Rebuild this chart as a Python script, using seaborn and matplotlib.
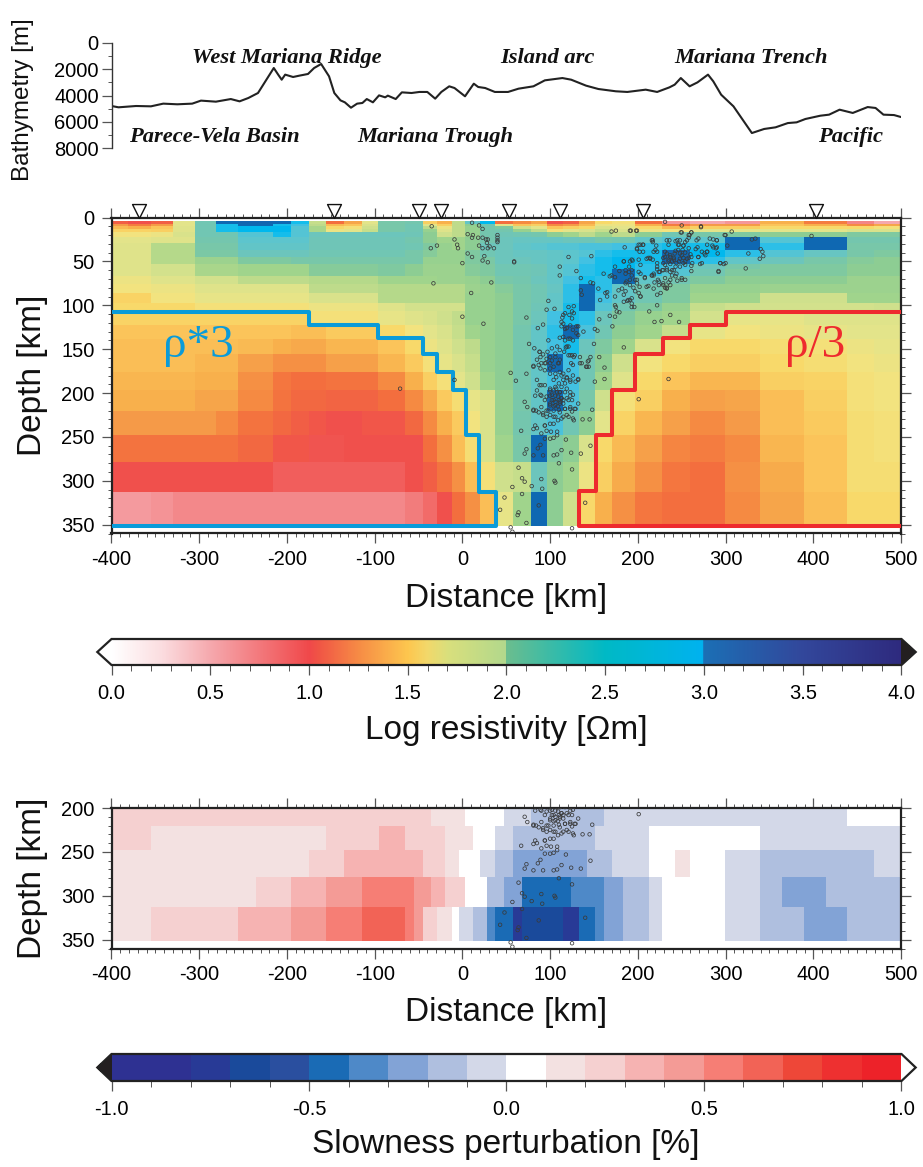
import matplotlib
matplotlib.use("Agg")
import matplotlib.pyplot as plt
import numpy as np
import pandas as pd
import seaborn as sns
from matplotlib.cm import ScalarMappable
from matplotlib.colors import LinearSegmentedColormap, ListedColormap, Normalize
from matplotlib.ticker import MultipleLocator

# bathymetry profile
bathy_dist = [-400, -392, -372, -355, -341, -325, -308, -298, -281, -264, -254, -244, -233, -227, -215, -210, -206, -202,
              -193, -186, -176, -169, -161, -152, -146, -139, -134, -127, -120, -114, -109, -102, -95, -88, -85, -76,
              -69, -58, -49, -40, -31, -24, -15, -9, 3, 13, 18, 26, 37, 52, 64, 81, 94, 114, 124, 141, 155, 175, 188,
              209, 222, 236, 242, 249, 259, 268, 280, 286, 295, 309, 330, 344, 357, 371, 381, 391, 408, 418, 430, 445,
              462, 471, 480, 492, 500]
bathy_depth = [4800, 4900, 4800, 4825, 4620, 4670, 4620, 4390, 4470, 4270, 4445, 4190, 3810, 3175, 1905, 2410, 2795, 2410,
               2590, 2490, 2360, 1905, 1600, 2540, 3810, 4370, 4520, 4930, 4620, 4570, 4270, 4520, 3990, 4140, 4010, 4270,
               3760, 3810, 3730, 3730, 4240, 3730, 3300, 3430, 4060, 3100, 3350, 3430, 3730, 3730, 3480, 3300, 2845, 2670,
               2795, 3250, 3505, 3680, 3730, 3555, 3730, 3380, 3175, 2670, 3300, 3000, 2410, 2920, 3940, 4825, 6860, 6550,
               6425, 6100, 6045, 5790, 5540, 5460, 5080, 5330, 4880, 4950, 5460, 5490, 5640]
region_names = ["West Mariana Ridge", "Island arc", "Mariana Trench", "Parece-Vela Basin", "Mariana Trough", "Pacific"]
region_dist = [-200, 97, 329, -283, -31, 443]
region_depth = [1140, 1140, 1140, 7160, 7160, 7160]

# stations
site_dist = [-369, -146, -50, -24, 53, 111, 206, 403]

# resistivity model
x_edges = [-400, -381, -355, -330, -305, -281, -256, -216, -195, -175, -155, -135, -115, -96, -65, -45, -29, -12, 3, 20,
           37, 58, 78, 97, 115, 133, 151, 171, 197, 227, 259, 299, 339, 389, 439, 469, 500]
z_edges = [4, 7, 10, 13, 16, 22, 29, 37, 45, 53, 59, 67, 76, 86, 97, 107, 122, 138, 155, 176, 197, 220, 248, 279, 313, 351]
log_rho = [
    [1.05, 1.00, 1.05, 1.70, 2.40, 3.05, 3.10, 3.05, 2.90, 1.85, 1.10, 1.30, 1.70, 2.30, 2.35, 1.50, 1.35, 1.90, 2.60, 2.95, 1.10, 1.20, 1.30, 1.00, 1.05, 1.30, 1.55, 1.60, 1.10, 0.60, 0.50, 0.60, 1.35, 1.15, 0.70, 0.50],
    [1.25, 1.15, 1.25, 1.70, 2.40, 2.90, 3.05, 2.90, 2.80, 1.90, 1.40, 1.45, 1.75, 2.30, 2.40, 1.70, 1.50, 1.90, 2.10, 2.40, 1.70, 1.45, 1.50, 1.20, 1.25, 1.40, 1.65, 1.65, 1.35, 1.15, 1.25, 1.25, 1.45, 1.35, 1.20, 1.30],
    [1.40, 1.35, 1.45, 1.72, 2.40, 2.90, 2.95, 2.95, 2.70, 1.98, 1.55, 1.60, 1.80, 2.30, 2.40, 1.90, 1.65, 1.90, 2.05, 2.35, 2.20, 1.80, 1.70, 1.45, 1.50, 1.55, 1.75, 1.70, 1.55, 1.40, 1.50, 1.50, 1.55, 1.55, 1.55, 1.60],
    [1.52, 1.52, 1.50, 1.72, 2.40, 2.90, 2.95, 2.95, 2.70, 1.98, 1.65, 1.70, 1.85, 2.30, 2.40, 2.05, 1.72, 1.90, 2.05, 2.35, 2.35, 2.05, 1.90, 1.60, 1.70, 1.75, 1.85, 1.75, 1.65, 1.62, 1.70, 1.70, 1.70, 1.70, 1.75, 1.75],
    [1.62, 1.62, 1.65, 1.75, 2.40, 2.40, 2.70, 2.90, 2.70, 2.50, 2.50, 2.50, 2.50, 2.50, 2.45, 2.10, 1.80, 1.90, 2.05, 2.35, 2.45, 2.40, 2.35, 2.10, 2.00, 1.90, 2.00, 1.90, 2.10, 2.40, 2.30, 2.20, 2.10, 2.10, 2.20, 2.20],
    [1.70, 1.70, 1.72, 1.72, 2.35, 2.35, 2.65, 2.65, 2.65, 2.45, 2.45, 2.45, 2.45, 2.45, 2.35, 2.10, 2.00, 2.00, 2.10, 2.35, 2.50, 2.55, 2.55, 2.55, 2.50, 2.45, 2.30, 2.35, 2.60, 2.70, 2.65, 3.05, 2.70, 3.05, 2.35, 2.35],
    [1.72, 1.72, 1.95, 1.95, 2.30, 2.30, 2.60, 2.60, 2.60, 2.45, 2.45, 2.45, 2.45, 2.45, 2.40, 2.20, 2.05, 2.00, 2.10, 2.50, 2.50, 2.60, 2.65, 2.70, 2.70, 2.75, 2.75, 2.80, 2.85, 2.90, 2.90, 3.05, 2.85, 3.05, 2.30, 2.30],
    [1.72, 1.72, 1.95, 1.95, 2.25, 2.25, 2.50, 2.50, 2.50, 2.40, 2.40, 2.40, 2.40, 2.40, 2.30, 2.15, 2.05, 2.05, 2.20, 2.40, 2.50, 2.55, 2.55, 2.60, 2.65, 2.70, 2.85, 2.90, 2.90, 3.05, 2.95, 2.85, 2.70, 2.55, 2.30, 2.20],
    [1.72, 1.72, 1.95, 1.95, 2.02, 2.02, 2.20, 2.20, 2.30, 2.30, 2.30, 2.30, 2.30, 2.30, 2.30, 2.05, 2.05, 2.05, 2.20, 2.25, 2.50, 2.50, 2.55, 2.60, 2.65, 2.80, 2.90, 2.95, 2.90, 3.05, 2.85, 2.60, 2.50, 2.30, 2.15, 2.10],
    [1.72, 1.72, 1.78, 1.78, 1.98, 1.98, 2.00, 2.00, 2.00, 2.15, 2.15, 2.15, 2.15, 2.20, 2.10, 2.02, 2.02, 2.02, 2.15, 2.20, 2.40, 2.40, 2.45, 2.60, 2.70, 2.85, 2.90, 2.95, 2.85, 2.80, 2.50, 2.30, 2.20, 2.20, 2.10, 2.10],
    [1.72, 1.72, 1.78, 1.78, 1.98, 1.98, 2.00, 2.00, 2.00, 2.15, 2.15, 2.15, 2.15, 2.20, 2.10, 2.02, 2.02, 2.02, 2.15, 2.20, 2.40, 2.40, 2.45, 2.60, 2.70, 2.85, 2.90, 3.05, 2.85, 2.70, 2.40, 2.20, 2.20, 2.20, 2.10, 2.10],
    [1.65, 1.65, 1.72, 1.72, 1.78, 1.78, 1.90, 1.90, 1.90, 1.95, 1.95, 1.95, 1.95, 2.00, 2.00, 2.00, 2.02, 2.02, 2.05, 2.10, 2.30, 2.35, 2.50, 2.60, 2.80, 2.90, 2.85, 3.05, 2.60, 2.40, 2.20, 2.10, 2.10, 2.10, 2.02, 2.02],
    [1.62, 1.62, 1.65, 1.65, 1.72, 1.72, 1.72, 1.72, 1.72, 1.90, 1.90, 1.90, 1.90, 1.95, 1.95, 1.95, 1.95, 1.95, 2.02, 2.05, 2.15, 2.30, 2.40, 2.55, 2.85, 3.05, 2.85, 2.60, 2.40, 2.20, 2.05, 2.05, 2.02, 2.02, 2.02, 2.02],
    [1.52, 1.52, 1.62, 1.62, 1.68, 1.68, 1.68, 1.68, 1.68, 1.75, 1.75, 1.75, 1.75, 1.95, 1.95, 1.95, 1.95, 1.95, 2.05, 2.05, 2.10, 2.30, 2.40, 2.60, 2.85, 3.05, 2.80, 2.60, 2.40, 2.20, 2.00, 2.00, 1.80, 1.80, 2.00, 2.00],
    [1.55, 1.55, 1.55, 1.55, 1.60, 1.60, 1.60, 1.60, 1.60, 1.65, 1.65, 1.65, 1.65, 1.72, 1.78, 1.78, 1.78, 1.78, 2.05, 2.05, 2.10, 2.30, 2.45, 2.60, 2.90, 3.05, 2.70, 2.40, 2.20, 2.05, 1.85, 1.80, 1.78, 1.78, 1.78, 1.80],
    [1.52, 1.52, 1.52, 1.52, 1.52, 1.52, 1.52, 1.52, 1.52, 1.60, 1.60, 1.60, 1.60, 1.68, 1.72, 1.75, 1.80, 1.88, 2.05, 2.05, 2.10, 2.30, 2.50, 2.80, 2.90, 2.85, 2.50, 2.20, 2.05, 2.00, 1.78, 1.68, 1.68, 1.72, 1.72, 1.72],
    [1.45, 1.45, 1.45, 1.45, 1.45, 1.45, 1.45, 1.45, 1.42, 1.42, 1.48, 1.48, 1.48, 1.55, 1.62, 1.70, 1.75, 1.85, 2.00, 2.05, 2.10, 2.35, 2.60, 2.85, 3.05, 2.75, 2.40, 2.10, 2.00, 1.85, 1.68, 1.62, 1.65, 1.68, 1.70, 1.70],
    [1.42, 1.42, 1.42, 1.42, 1.42, 1.42, 1.40, 1.35, 1.32, 1.32, 1.38, 1.38, 1.38, 1.45, 1.55, 1.65, 1.72, 1.80, 1.90, 2.05, 2.10, 2.35, 2.60, 2.80, 2.90, 2.50, 2.20, 2.00, 1.75, 1.62, 1.55, 1.55, 1.58, 1.60, 1.65, 1.68],
    [1.42, 1.42, 1.42, 1.42, 1.38, 1.38, 1.28, 1.22, 1.22, 1.22, 1.28, 1.28, 1.28, 1.38, 1.48, 1.60, 1.68, 1.75, 1.85, 2.05, 2.10, 2.35, 2.60, 3.05, 2.80, 2.40, 2.10, 1.80, 1.62, 1.55, 1.50, 1.50, 1.55, 1.58, 1.62, 1.65],
    [1.38, 1.38, 1.38, 1.38, 1.35, 1.35, 1.22, 1.13, 1.10, 1.10, 1.12, 1.12, 1.12, 1.20, 1.35, 1.50, 1.60, 1.70, 1.80, 2.00, 2.10, 2.35, 2.60, 2.80, 2.80, 2.40, 2.00, 1.72, 1.55, 1.45, 1.38, 1.38, 1.50, 1.52, 1.60, 1.62],
    [1.35, 1.35, 1.35, 1.35, 1.30, 1.30, 1.20, 1.12, 1.08, 1.08, 1.07, 1.07, 1.07, 1.10, 1.20, 1.32, 1.48, 1.58, 1.68, 1.75, 2.05, 2.30, 2.60, 3.05, 2.75, 2.30, 1.80, 1.60, 1.50, 1.35, 1.28, 1.30, 1.42, 1.50, 1.60, 1.62],
    [1.25, 1.25, 1.25, 1.25, 1.25, 1.20, 1.12, 1.08, 1.05, 1.02, 1.00, 1.00, 1.02, 1.02, 1.08, 1.20, 1.35, 1.48, 1.62, 1.75, 2.05, 2.35, 2.60, 2.75, 2.40, 2.10, 1.70, 1.52, 1.38, 1.28, 1.20, 1.25, 1.42, 1.48, 1.58, 1.60],
    [1.12, 1.12, 1.12, 1.12, 1.12, 1.12, 1.08, 1.02, 1.02, 0.98, 0.98, 1.00, 1.00, 1.00, 1.00, 1.10, 1.22, 1.42, 1.58, 1.75, 2.00, 2.30, 3.05, 2.20, 2.10, 1.75, 1.55, 1.40, 1.28, 1.18, 1.15, 1.20, 1.38, 1.45, 1.58, 1.60],
    [1.00, 1.00, 1.00, 1.00, 1.00, 1.00, 1.00, 0.92, 0.92, 0.92, 0.92, 0.92, 0.92, 0.92, 1.00, 1.05, 1.12, 1.22, 1.42, 1.60, 1.80, 1.85, 2.50, 2.10, 2.00, 1.65, 1.50, 1.33, 1.22, 1.13, 1.10, 1.22, 1.33, 1.45, 1.58, 1.58],
    [0.58, 0.58, 0.62, 0.68, 0.68, 0.68, 0.68, 0.68, 0.68, 0.68, 0.68, 0.68, 0.68, 0.68, 0.75, 0.85, 1.00, 1.10, 1.22, 1.42, 1.68, 2.00, 3.05, 2.10, 1.80, 1.55, 1.35, 1.22, 1.13, 1.10, 1.10, 1.20, 1.30, 1.42, 1.55, 1.55],
]

# outlines of the rescaled blocks
blue_dist = [-400, -175, -175, -96, -96, -45, -45, -29, -29, -11, -11, 4, 4, 19, 19, 38, 38, -400]
blue_depth = [108, 108, 123, 123, 137, 137, 156, 156, 176, 176, 197, 197, 248, 248, 313, 313, 352, 352]
red_dist = [500, 301, 301, 259, 259, 229, 229, 197, 197, 171, 171, 152, 152, 133, 133, 500]
red_depth = [108, 108, 123, 123, 137, 137, 156, 156, 196, 196, 248, 248, 312, 312, 351, 351]

# earthquakes (distance km, depth km)
quakes = [
    (170, 16), (175, 15), (192, 15), (198, 15), (231, 5), (250, 9), (249, 17), (272, 11), (261, 17), (259, 20), (258, 23), (299, 20),
    (307, 16), (216, 26), (236, 26), (243, 27), (254, 28), (246, 31), (252, 32), (256, 26), (269, 24), (258, 35), (268, 34), (282, 24),
    (290, 26), (286, 34), (290, 34), (279, 39), (276, 41), (269, 45), (261, 45), (291, 41), (294, 52), (298, 53), (273, 52), (261, 55),
    (261, 61), (292, 61), (323, 58), (302, 32), (326, 41), (334, 24), (330, 25), (340, 36), (342, 39), (343, 44), (339, 47), (398, 21),
    (233, 41), (237, 45), (241, 48), (246, 37), (250, 43), (254, 50), (256, 47), (242, 41), (239, 50), (235, 50), (231, 45), (229, 52),
    (248, 47), (252, 52), (244, 52), (251, 37), (210, 47), (214, 47), (217, 48), (222, 52), (222, 56), (206, 31), (203, 31), (199, 35),
    (202, 39), (217, 28), (220, 37), (222, 39), (229, 60), (233, 60), (237, 62), (241, 60), (244, 64), (250, 69), (254, 71), (243, 67),
    (239, 66), (235, 74), (231, 80), (225, 62), (222, 59), (218, 66), (216, 66), (208, 68), (212, 78), (219, 74), (224, 73), (229, 75),
    (233, 81), (203, 54), (201, 62), (184, 50), (194, 49), (191, 50), (174, 56), (179, 61), (170, 66), (174, 68), (168, 67), (186, 60),
    (190, 62), (193, 66), (197, 71), (199, 75), (203, 90), (193, 92), (189, 94), (184, 96), (193, 102), (196, 102), (174, 100), (175, 102),
    (165, 90), (163, 86), (157, 94), (161, 64), (149, 75), (147, 44), (121, 45), (111, 66), (130, 61), (135, 69), (146, 74), (155, 81),
    (165, 85), (174, 90), (178, 83), (182, 81), (187, 73), (191, 77), (195, 80), (176, 107), (168, 112), (174, 113), (179, 108), (156, 116),
    (151, 127), (154, 129), (171, 124), (184, 148), (162, 171), (162, 184), (151, 187), (156, 159), (150, 144), (235, 184), (201, 207),
    (219, 119), (227, 118), (247, 119), (222, 100), (237, 111), (213, 107), (135, 83), (136, 88), (127, 101), (125, 107), (127, 109),
    (121, 102), (122, 111), (117, 109), (115, 111), (114, 114), (113, 119), (113, 124), (119, 126), (125, 115), (130, 124), (132, 124),
    (130, 132), (123, 138), (121, 147), (115, 136), (111, 137), (105, 104), (96, 105), (98, 95), (73, 114), (92, 122), (86, 126), (98, 140),
    (111, 56), (59, 50), (55, 177), (61, 186), (73, 178), (76, 144), (82, 149), (88, 153), (92, 156), (89, 159), (97, 153), (100, 159),
    (95, 166), (90, 166), (85, 162), (81, 169), (89, 172), (94, 174), (100, 178), (106, 178), (111, 176), (115, 178), (121, 174), (124, 166),
    (127, 159), (134, 159), (136, 166), (141, 170), (144, 170), (143, 164), (146, 159), (123, 185), (129, 187), (132, 185), (119, 183),
    (121, 157), (125, 157), (116, 153), (111, 151), (108, 147), (106, 155), (102, 149), (118, 148), (111, 162), (110, 166), (104, 170),
    (94, 191), (90, 191), (85, 197), (89, 202), (96, 204), (100, 197), (106, 193), (110, 189), (113, 193), (117, 189), (111, 199), (108, 199),
    (102, 202), (104, 208), (110, 208), (113, 206), (111, 212), (106, 214), (100, 212), (94, 208), (117, 218), (123, 216), (119, 195),
    (123, 199), (126, 202), (115, 208), (121, 208), (125, 208), (129, 218), (132, 212), (71, 210), (74, 216), (81, 219), (84, 220), (90, 216),
    (92, 223), (96, 220), (100, 225), (104, 227), (110, 219), (115, 227), (121, 227), (125, 221), (127, 231), (137, 230), (145, 230),
    (148, 219), (100, 235), (94, 237), (85, 240), (81, 241), (67, 243), (90, 246), (96, 243), (101, 244), (108, 244), (108, 248), (104, 251),
    (100, 252), (94, 252), (89, 259), (86, 263), (73, 264), (71, 269), (81, 271), (92, 271), (104, 271), (108, 270), (113, 265), (118, 253),
    (124, 268), (135, 269), (146, 260), (110, 280), (125, 287), (64, 285), (68, 297), (71, 301), (57, 307), (79, 306), (90, 298), (91, 309),
    (105, 300), (106, 302), (68, 315), (48, 319), (87, 328), (140, 325), (64, 336), (63, 339), (73, 348), (55, 353), (57, 358), (125, 354),
    (-35, 10), (11, 6), (19, 9), (23, 13), (6, 19), (12, 20), (11, 23), (18, 23), (23, 23), (27, 25), (29, 25), (40, 20), (40, 23), (40, 26),
    (40, 28), (-9, 25), (-6, 31), (-5, 35), (-36, 35), (-29, 32), (6, 41), (11, 45), (19, 32), (23, 35), (28, 29), (29, 35), (31, 33), (36, 35),
    (25, 44), (23, 49), (29, 51), (0, 52), (59, 51), (-33, 75), (33, 74), (10, 86), (0, 113), (24, 121), (-71, 195), (-9, 185), (43, 333),
    # dense part of the slab, 120-240 km depth
    (100, 195), (104, 197), (107, 195), (111, 199), (100, 203), (106, 203), (109, 204), (113, 206), (102, 208), (106, 210), (111, 210),
    (100, 214), (104, 215), (109, 215), (115, 212), (119, 206), (117, 199), (123, 203), (98, 220), (104, 220), (111, 222), (117, 218),
    (123, 218), (128, 218), (92, 225), (96, 227), (106, 227), (109, 231), (104, 235), (113, 229), (119, 225), (126, 229), (81, 220),
    (87, 222), (83, 237), (94, 237), (115, 185), (119, 182), (113, 180), (107, 182), (104, 185), (123, 187), (126, 180), (132, 184),
    (100, 172), (106, 159), (102, 163), (109, 166), (96, 161), (100, 166), (88, 153), (94, 166), (119, 147), (123, 157), (128, 157),
    (117, 140), (121, 138), (126, 140), (132, 134), (117, 127), (123, 123), (115, 121), (126, 128), (138, 130), (144, 163), (142, 170),
    (134, 166), (126, 168), (81, 170), (87, 168), (85, 185), (88, 191), (83, 203), (90, 203),
    # dense part of the slab, 15-100 km depth
    (191, 15), (199, 15), (250, 17), (261, 17), (272, 10), (248, 26), (233, 26), (245, 26), (258, 20), (217, 26), (201, 31), (206, 31),
    (185, 34), (199, 36), (206, 39), (218, 39), (221, 32), (235, 31), (247, 31), (252, 32), (267, 26), (266, 36), (286, 25), (290, 26),
    (279, 31), (285, 32), (289, 35), (273, 39), (279, 39), (300, 20), (231, 39), (237, 43), (243, 38), (248, 41), (254, 40), (260, 42),
    (235, 48), (241, 46), (247, 50), (252, 46), (258, 46), (262, 52), (229, 46), (231, 54), (237, 53), (243, 56), (248, 56), (254, 54),
    (269, 45), (277, 43), (271, 53), (294, 52), (300, 52), (292, 62), (184, 50), (193, 48), (201, 48), (214, 46), (212, 46), (228, 60),
    (233, 58), (239, 60), (224, 62), (218, 64), (216, 66), (208, 69), (203, 64), (193, 60), (190, 56), (186, 64), (186, 75), (191, 71),
    (199, 71), (202, 79), (218, 81), (210, 79), (223, 71), (231, 69), (237, 71), (245, 72), (250, 71), (229, 77), (237, 77), (233, 80),
    (224, 77), (226, 86), (222, 88), (197, 84), (201, 86), (203, 90), (186, 84), (184, 88), (191, 94), (193, 98), (188, 95),
]

# slowness model, one strip per layer: block edges and values
slow_z = [200, 220, 248, 279, 313, 351]
slow_edges = [
    [-400, -36, 3, 47, 78, 161, 439, 500],
    [-400, -355, -155, -95, -65, -20, 12, 37, 58, 151, 213, 339, 500],
    [-400, -175, -135, -45, -20, -4, 20, 37, 58, 142, 171, 213, 242, 259, 299, 339, 469, 500],
    [-400, -235, -195, -155, -115, -55, -36, -20, 3, 28, 47, 68, 124, 161, 183, 213, 227, 299, 339, 364, 414, 500],
    [-400, -355, -256, -195, -155, -115, -65, -55, -45, -29, -12, -4, 12, 28, 37, 58, 68, 115, 133, 151, 161, 183, 213, 227, 299, 339, 389, 439, 500],
]
slow_vals = [
    [0.25, 0.15, 0.05, -0.05, -0.15, -0.05, 0.05],
    [0.25, 0.15, 0.25, 0.35, 0.25, 0.15, 0.05, -0.05, -0.15, -0.05, 0.05, -0.05],
    [0.15, 0.25, 0.35, 0.25, 0.15, 0.05, -0.05, -0.15, -0.25, -0.15, -0.05, 0.05, 0.15, 0.05, -0.05, -0.15, -0.05],
    [0.15, 0.25, 0.35, 0.45, 0.55, 0.45, 0.35, 0.25, 0.05, -0.15, -0.25, -0.45, -0.35, -0.25, -0.15, -0.05, 0.05, -0.05, -0.15, -0.25, -0.15],
    [0.15, 0.25, 0.35, 0.45, 0.55, 0.65, 0.55, 0.45, 0.25, 0.15, 0.05, -0.05, -0.15, -0.35, -0.45, -0.75, -0.65, -0.75, -0.45, -0.35, -0.25, -0.15, -0.05, 0.05, -0.05, -0.15, -0.25, -0.15],
]

# colour scales
bar_stops = [(0.0, "#ffffff"), (0.25, "#fbdde0"), (0.5, "#f5a8ad"), (1.0, "#f0484a"), (1.05, "#f05545"), (1.25, "#f68b45"),
             (1.5, "#fdc64e"), (1.6, "#f2d86a"), (1.7, "#d9df7c"), (1.995, "#b2d88c"), (2.0, "#6bbd8e"), (2.5, "#00b9c5"),
             (2.995, "#00b2ef"), (3.0, "#1b6fb5"), (3.5, "#32479b"), (4.0, "#2e2a7e")]
mesh_stops = [(0.0, "#ffffff"), (0.25, "#fbdde0"), (0.5, "#f5a8ad"), (1.0, "#f0504c"), (1.1, "#f36e3e"), (1.2, "#f58a42"),
              (1.25, "#f59a48"), (1.35, "#f8b04c"), (1.45, "#fbc45a"), (1.55, "#f8d96a"), (1.62, "#f2e37f"), (1.7, "#e3e48a"),
              (1.8, "#cfe08c"), (1.95, "#b5d98a"), (2.0, "#a0d48c"), (2.1, "#8dcd93"), (2.2, "#7fc9a0"), (2.35, "#74c6ae"),
              (2.5, "#6cc5bc"), (2.65, "#5dc5cd"), (2.8, "#42c1e2"), (2.95, "#00bbf0"), (3.0, "#0b6cb5"), (3.5, "#32479b"),
              (4.0, "#2e2a7e")]
slow_colors = ["#2e3192", "#2e3192", "#283a96", "#1a4a9b", "#2a4f9f", "#1a6bb5", "#4e89c8", "#82a3d6", "#afbfdf", "#d3d8e8",
               "#ffffff", "#f3e1e1", "#f5d0d0", "#f6b3b2", "#f49b96", "#f67e75", "#f26356", "#ee4738", "#ee3030", "#ed2229"]

W, H = 923, 1167
sns.set_theme(style="ticks")
plt.rcParams["font.family"] = ["Liberation Sans", "DejaVu Sans"]
plt.rcParams["axes.unicode_minus"] = False
plt.rcParams["xtick.color"] = "#555555"
plt.rcParams["ytick.color"] = "#555555"
plt.rcParams["xtick.labelcolor"] = "black"
plt.rcParams["ytick.labelcolor"] = "black"


def make_cmap(stops):
    return LinearSegmentedColormap.from_list("c", [(v / 4.0, c) for v, c in stops], N=1024)


def box(fig, left, top, right, bottom):
    return fig.add_axes([left / W, 1 - bottom / H, (right - left) / W, (bottom - top) / H])


def style_profile(ax, z_top, z_bottom):
    ax.set_xlim(-400, 500)
    ax.set_ylim(z_bottom, z_top)
    ax.xaxis.set_major_locator(MultipleLocator(100))
    ax.xaxis.set_minor_locator(MultipleLocator(10))
    ax.yaxis.set_major_locator(MultipleLocator(50))
    ax.yaxis.set_minor_locator(MultipleLocator(10))
    ax.tick_params(which="major", length=7.2, width=0.9, top=True, right=True, labelsize=14.5, pad=5)
    ax.tick_params(which="minor", length=3.2, width=0.7, top=True, right=True)
    for s in ax.spines.values():
        s.set_linewidth(1.6)
        s.set_color("#222222")
    ax.set_xlabel("")
    ax.set_ylabel("")


def draw_quakes(ax):
    q = pd.DataFrame(quakes, columns=["dist", "depth"])
    sns.scatterplot(data=q, x="dist", y="depth", ax=ax, s=6.5, facecolors="none", edgecolor="#3a3a3a", linewidth=0.55,
                    legend=False, zorder=4)


def make_bar(fig, top, bottom, cmap, norm):
    # the end triangles take their room out of the axes, so it is wider than the bar
    cax = box(fig, 97.3, top, 915.7, bottom)
    cb = fig.colorbar(ScalarMappable(norm=norm, cmap=cmap), cax=cax, orientation="horizontal", extend="both", extendfrac=0.018)
    cb.outline.set_linewidth(1.6)
    cb.outline.set_edgecolor("#222222")
    cb.set_ticks(np.arange(norm.vmin, norm.vmax + 0.01, 0.5))
    cb.ax.set_xticklabels(["%.1f" % t for t in np.arange(norm.vmin, norm.vmax + 0.01, 0.5)])
    cb.ax.xaxis.set_minor_locator(MultipleLocator(0.1))
    cb.ax.tick_params(which="major", length=7.5, width=0.9, labelsize=14.5, pad=6)
    cb.ax.tick_params(which="minor", length=4, width=0.7)
    return cb


fig = plt.figure(figsize=(W / 100, H / 100), dpi=100, facecolor="white")

# bathymetry
ax0 = box(fig, 111.5, 43, 901, 148)
sns.lineplot(x=bathy_dist, y=bathy_depth, sort=False, estimator=None, ax=ax0, color="#222222", linewidth=1.5)
ax0.set_xlim(-400, 500)
ax0.set_ylim(8000, 0)
ax0.yaxis.set_major_locator(MultipleLocator(2000))
ax0.yaxis.set_minor_locator(MultipleLocator(1000))
ax0.tick_params(which="major", length=7.2, width=0.9, labelsize=14.5, pad=2)
ax0.tick_params(which="minor", length=3.2, width=0.7)
ax0.tick_params(axis="x", which="both", bottom=False, labelbottom=False)
for side in ["top", "right", "bottom"]:
    ax0.spines[side].set_visible(False)
ax0.spines["left"].set_linewidth(1.0)
ax0.spines["left"].set_color("#333333")
ax0.patch.set_alpha(0)
for name, d, z in zip(region_names, region_dist, region_depth):
    ax0.text(d, z, name, family="Liberation Serif", style="italic", weight="bold", fontsize=16.2, ha="center", va="center",
             color="#111111", clip_on=False)

# resistivity section
ax1 = box(fig, 111.5, 217.5, 901, 533.5)
ax1.pcolormesh(x_edges, z_edges, np.array(log_rho), cmap=make_cmap(mesh_stops), norm=Normalize(0, 4), shading="flat",
               antialiased=False, linewidth=0)
sns.lineplot(x=blue_dist, y=blue_depth, sort=False, estimator=None, ax=ax1, color="#0a9bd9", linewidth=2.9, zorder=3)
sns.lineplot(x=red_dist, y=red_depth, sort=False, estimator=None, ax=ax1, color="#ee2a2e", linewidth=2.9, zorder=3)
draw_quakes(ax1)
style_profile(ax1, 0, 360)
ax1.text(-301, 146, "ρ*3", family="Liberation Serif", fontsize=34, color="#0a9bd9", ha="center", va="center")
ax1.text(402, 146, "ρ/3", family="Liberation Serif", fontsize=34, color="#ee2a2e", ha="center", va="center")
sns.scatterplot(x=site_dist, y=[-7] * len(site_dist), ax=ax1, marker="v", s=100, color="white", edgecolor="#111111", linewidth=1.0,
                clip_on=False, zorder=6, legend=False)
ax1.set_xlim(-400, 500)
ax1.set_ylim(360, 0)

# slowness section
ax2 = box(fig, 111.5, 808, 901, 948.5)
slow_cmap = ListedColormap(slow_colors)
slow_norm = Normalize(-1, 1)
for i, (edges, vals) in enumerate(zip(slow_edges, slow_vals)):
    ax2.pcolormesh(edges, slow_z[i:i + 2], [vals], cmap=slow_cmap, norm=slow_norm, shading="flat", antialiased=False, linewidth=0)
draw_quakes(ax2)
style_profile(ax2, 200, 360)

# colour bars
bar_cmap = make_cmap(bar_stops)
bar_cmap.set_under("white")
bar_cmap.set_over("#231f20")
make_bar(fig, 639, 665, bar_cmap, Normalize(0, 4))
slow_bar = ListedColormap(slow_colors)
slow_bar.set_under("#231f20")
slow_bar.set_over("white")
make_bar(fig, 1054, 1081, slow_bar, Normalize(-1, 1))

# axis titles
big = 24
for text, x, y in [("Distance [km]", 506, 599), ("Log resistivity [Ωm]", 506, 731), ("Distance [km]", 506, 1013),
                   ("Slowness perturbation [%]", 506, 1144)]:
    fig.text(x / W, 1 - y / H, text, fontsize=big, ha="center", va="center", color="#111111")
for y in [375, 878]:
    fig.text(33 / W, 1 - y / H, "Depth [km]", fontsize=big, rotation=90, ha="center", va="center", color="#111111")
fig.text(23 / W, 1 - 100 / H, "Bathymetry [m]", fontsize=17.5, rotation=90, ha="center", va="center", color="#111111")

fig.savefig("out.png", dpi=100, facecolor="white")
